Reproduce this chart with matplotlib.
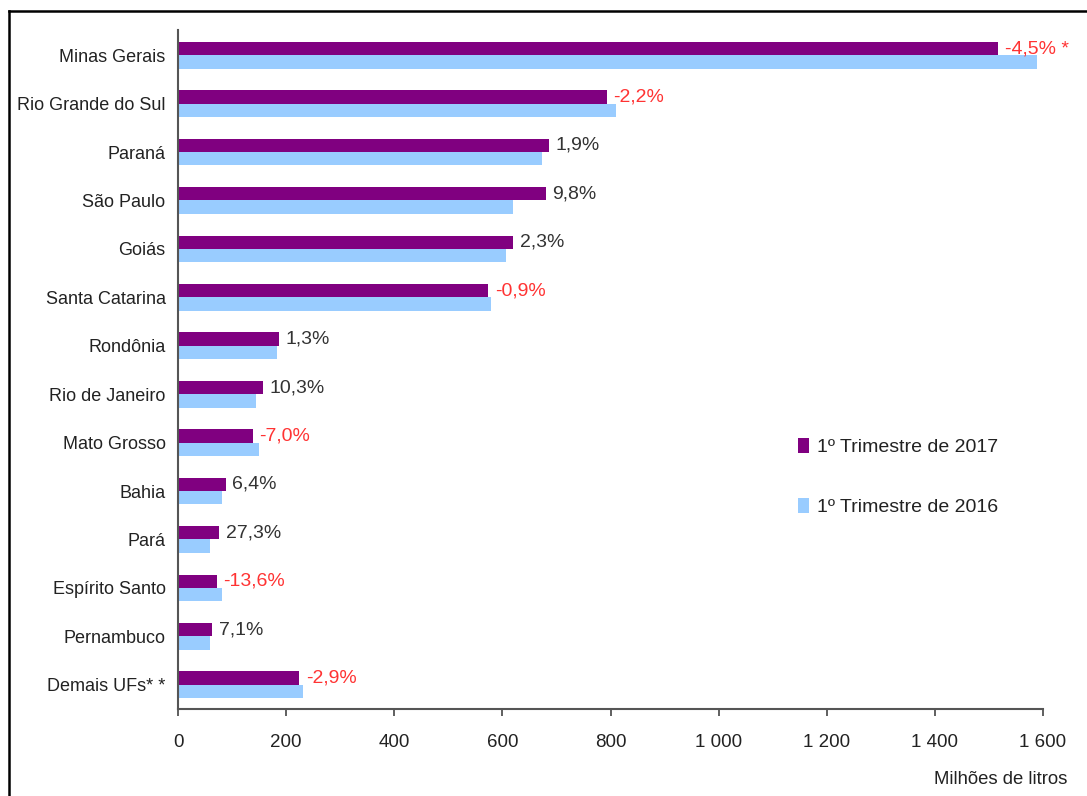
import matplotlib.pyplot as plt
import numpy as np
from matplotlib.lines import Line2D

plt.rcParams['font.family'] = ['Liberation Sans', 'DejaVu Sans']

# data (milhões de litros)
estados = ['Minas Gerais', 'Rio Grande do Sul', 'Paraná', 'São Paulo', 'Goiás',
           'Santa Catarina', 'Rondônia', 'Rio de Janeiro', 'Mato Grosso', 'Bahia',
           'Pará', 'Espírito Santo', 'Pernambuco', 'Demais UFs* *']
tri_2017 = [1517, 793, 687, 680, 620, 574, 187, 158, 138, 88, 76, 72, 63, 224]
tri_2016 = [1589, 811, 674, 620, 607, 579, 183, 144, 149, 82, 60, 82, 59, 232]
variacao = ['-4,5% *', '-2,2%', '1,9%', '9,8%', '2,3%', '-0,9%', '1,3%', '10,3%',
            '-7,0%', '6,4%', '27,3%', '-13,6%', '7,1%', '-2,9%']
ticks = [0, 200, 400, 600, 800, 1000, 1200, 1400, 1600]
tick_labels = ['0', '200', '400', '600', '800', '1 000', '1 200', '1 400', '1 600']

cor_2017 = '#800080'
cor_2016 = '#99CCFF'

fig = plt.figure(figsize=(10.87, 7.96), dpi=100)
ax = fig.add_axes([0.1638, 0.1093, 0.7957, 0.853])

y = np.arange(len(estados))
h = 0.275
ax.barh(y - h / 2, tri_2017, height=h, color=cor_2017, label='1º Trimestre de 2017')
ax.barh(y + h / 2, tri_2016, height=h, color=cor_2016, label='1º Trimestre de 2016')

for i, (v, txt) in enumerate(zip(tri_2017, variacao)):
    cor = '#FF3333' if txt.startswith('-') else '#333333'
    ax.text(v + 12, i - h / 2, txt, color=cor, fontsize=14, va='center', ha='left')

ax.set_ylim(len(estados) - 0.5, -0.52)
ax.set_xlim(0, 1600)
ax.set_yticks(y)
ax.set_yticklabels(estados, fontsize=13, color='#222222')
ax.set_xticks(ticks)
ax.set_xticklabels(tick_labels, fontsize=13.5, color='#222222')
ax.tick_params(axis='y', length=0, pad=9)
ax.tick_params(axis='x', length=5, width=1.2, color='#444444', pad=13)

for s in ['top', 'right']:
    ax.spines[s].set_visible(False)
for s in ['left', 'bottom']:
    ax.spines[s].set_color('#555555')
    ax.spines[s].set_linewidth(1.5)

fig.text(1067 / 1087, 0.01, 'Milhões de litros', fontsize=13.3, ha='right', va='bottom',
         color='#222222')

leg = ax.legend(loc='upper left', bbox_to_anchor=(0.697, 0.425), frameon=False,
                fontsize=14, handlelength=0.55, handleheight=0.8, handletextpad=0.4,
                labelspacing=2.15)
for t in leg.get_texts():
    t.set_color('#222222')

# frame lines (top and left)
fig.add_artist(Line2D([9 / 1087, 9 / 1087], [0, 1 - 11 / 796], color='black', lw=1.8))
fig.add_artist(Line2D([9 / 1087, 1], [1 - 11 / 796, 1 - 11 / 796], color='black', lw=1.8))

plt.savefig('out.png', dpi=100)
